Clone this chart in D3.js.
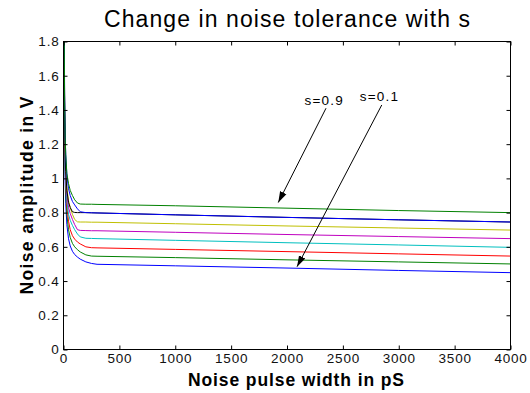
<!DOCTYPE html>
<html><head><meta charset="utf-8">
<script src="https://cdn.jsdelivr.net/npm/d3@7"></script>
<style>
body{margin:0;background:#fff}
svg{display:block}
text{font-family:"Liberation Sans",Arial,Helvetica,sans-serif}
</style>
</head><body>
<svg id="chart" width="530" height="393"></svg>
<script>
// ---- data ----
const pulseWidth = [2, 5, 10, 15, 20, 30, 45, 60, 80, 100, 125, 150, 200, 250, 300, 1000, 2000, 3000, 4000, 4000];
const s01 = [4.2, 1.98, 1.23, 0.98, 0.855, 0.73, 0.647, 0.605, 0.574, 0.555, 0.540, 0.528, 0.512, 0.503, 0.498, 0.489, 0.476, 0.462, 0.449, 0.449];
const s02 = [4.5, 2.14, 1.33, 1.06, 0.925, 0.79, 0.70, 0.655, 0.62, 0.60, 0.583, 0.570, 0.553, 0.546, 0.545, 0.537, 0.524, 0.512, 0.500, 0.500];
const s03 = [4.6, 2.22, 1.40, 1.12, 0.98, 0.84, 0.75, 0.70, 0.665, 0.645, 0.628, 0.617, 0.600, 0.595, 0.594, 0.585, 0.572, 0.559, 0.546, 0.546];
const s04 = [4.3, 2.1, 1.38, 1.12, 1.0, 0.87, 0.79, 0.755, 0.725, 0.70, 0.675, 0.658, 0.650, 0.649, 0.648, 0.638, 0.624, 0.611, 0.597, 0.597];
const s05 = [4.2, 2.1, 1.40, 1.15, 1.03, 0.91, 0.83, 0.795, 0.76, 0.73, 0.70, 0.696, 0.695, 0.694, 0.694, 0.685, 0.672, 0.660, 0.648, 0.648];
const s06 = [4.1, 2.1, 1.42, 1.18, 1.06, 0.95, 0.87, 0.83, 0.79, 0.76, 0.746, 0.745, 0.745, 0.744, 0.744, 0.735, 0.722, 0.710, 0.698, 0.698];
const s07 = [4.0, 2.0, 1.38, 1.15, 1.04, 0.93, 0.86, 0.83, 0.805, 0.801, 0.800, 0.800, 0.800, 0.799, 0.798, 0.787, 0.772, 0.758, 0.745, 0.745];
const s08 = [4.3, 2.2, 1.49, 1.25, 1.14, 1.02, 0.94, 0.90, 0.865, 0.845, 0.822, 0.805, 0.800, 0.799, 0.798, 0.787, 0.772, 0.758, 0.745, 0.745];
const s09 = [3.9, 2.07, 1.45, 1.24, 1.14, 1.03, 0.97, 0.93, 0.90, 0.875, 0.856, 0.850, 0.849, 0.849, 0.848, 0.840, 0.826, 0.812, 0.800, 0.14];
const seriesValues = [s01, s02, s03, s04, s05, s06, s07, s08, s09];
const seriesNames = ["s=0.1", "s=0.2", "s=0.3", "s=0.4", "s=0.5", "s=0.6", "s=0.7", "s=0.8", "s=0.9"];
const seriesColors = ["#0000ff", "#008000", "#ff0000", "#00bfbf", "#bf00bf", "#bfbf00", "#000000", "#0000ff", "#008000"];
const xTicks = [0, 500, 1000, 1500, 2000, 2500, 3000, 3500, 4000];
const yTicks = [0, 0.2, 0.4, 0.6, 0.8, 1, 1.2, 1.4, 1.6, 1.8];
const yTickLabels = ["0", "0.2", "0.4", "0.6", "0.8", "1", "1.2", "1.4", "1.6", "1.8"];
const titleText = "Change in noise tolerance with s";
const xLabelText = "Noise pulse width in pS";
const yLabelText = "Noise amplitude in V";
// annotations: [label, labelX, labelY, arrowFromX, arrowFromY, arrowToX, arrowToY] in data units
const annotations = [
  ["s=0.9", 2333, 1.429, 2349, 1.410, 1922, 0.859],
  ["s=0.1", 2828, 1.452, 2848, 1.429, 2090, 0.484]
];

// ---- layout ----
const L = 63.5, R = 510.5, T = 41.5, B = 349.5;
const svg = d3.select("#chart");
const x = d3.scaleLinear().domain([0, 4000]).range([L, R]);
const y = d3.scaleLinear().domain([0, 1.8]).range([B, T]);

const defs = svg.append("defs");
defs.append("clipPath").attr("id", "clip")
  .append("rect").attr("x", L).attr("y", T).attr("width", R - L).attr("height", B - T);
const marker = defs.append("marker")
  .attr("id", "ah").attr("viewBox", "0 0 10 10").attr("refX", 10).attr("refY", 5)
  .attr("markerWidth", 11).attr("markerHeight", 11).attr("markerUnits", "userSpaceOnUse")
  .attr("orient", "auto");
marker.append("path").attr("d", "M0,1.8 L10,5 L0,8.2 Z").attr("fill", "#000");

// series
const line = d3.line().x((d, i) => x(pulseWidth[i])).y(d => y(d));
const g = svg.append("g").attr("clip-path", "url(#clip)");
seriesValues.forEach((vals, k) => {
  g.append("path").datum(vals).attr("d", line)
    .attr("fill", "none").attr("stroke", seriesColors[k]).attr("stroke-width", 1)
    .attr("data-name", seriesNames[k]);
});

// axes
const ax = svg.append("g").attr("transform", `translate(0,${B})`)
  .call(d3.axisBottom(x).tickValues(xTicks).tickSizeInner(-4).tickSizeOuter(0).tickPadding(4).tickFormat(d3.format("d")));
const axTop = svg.append("g").attr("transform", `translate(0,${T})`)
  .call(d3.axisTop(x).tickValues(xTicks).tickSizeInner(-4).tickSizeOuter(0).tickFormat(""));
const ay = svg.append("g").attr("transform", `translate(${L},0)`)
  .call(d3.axisLeft(y).tickValues(yTicks).tickSizeInner(-4).tickSizeOuter(0).tickPadding(4)
    .tickFormat((d, i) => yTickLabels[i]));
const ayR = svg.append("g").attr("transform", `translate(${R},0)`)
  .call(d3.axisRight(y).tickValues(yTicks).tickSizeInner(-4).tickSizeOuter(0).tickFormat(""));
[ax, axTop, ay, ayR].forEach(a => {
  a.select(".domain").remove();
  a.selectAll("line").attr("stroke", "#000");
  a.selectAll("text").attr("font-size", 13.5).attr("fill", "#111")
    .style("letter-spacing", "0.8px")
    .style("font-family", '"Liberation Sans",Arial,sans-serif');
});
svg.append("rect").attr("x", L).attr("y", T).attr("width", R - L).attr("height", B - T)
  .attr("fill", "none").attr("stroke", "#000").attr("stroke-width", 1);

// labels
svg.append("text").attr("x", (L + R) / 2).attr("y", 27).attr("text-anchor", "middle")
  .attr("font-size", 23).attr("textLength", 366).attr("lengthAdjust", "spacing").text(titleText);
svg.append("text").attr("x", (L + R) / 2 + 9).attr("y", 386).attr("text-anchor", "middle")
  .attr("font-size", 17.5).attr("font-weight", "bold")
  .attr("textLength", 216).attr("lengthAdjust", "spacing").text(xLabelText);
svg.append("text").attr("transform", `translate(33,${(T + B) / 2}) rotate(-90)`).attr("text-anchor", "middle")
  .attr("font-size", 17.5).attr("font-weight", "bold")
  .attr("textLength", 198).attr("lengthAdjust", "spacing").text(yLabelText);

// annotations
annotations.forEach(a => {
  svg.append("text").attr("x", x(a[1])).attr("y", y(a[2])).attr("text-anchor", "middle")
    .attr("font-size", 13.5).style("letter-spacing", "1.2px").text(a[0]);
  svg.append("line").attr("x1", x(a[3])).attr("y1", y(a[4])).attr("x2", x(a[5])).attr("y2", y(a[6]))
    .attr("stroke", "#000").attr("stroke-width", 1).attr("marker-end", "url(#ah)");
});
</script>
</body></html>
